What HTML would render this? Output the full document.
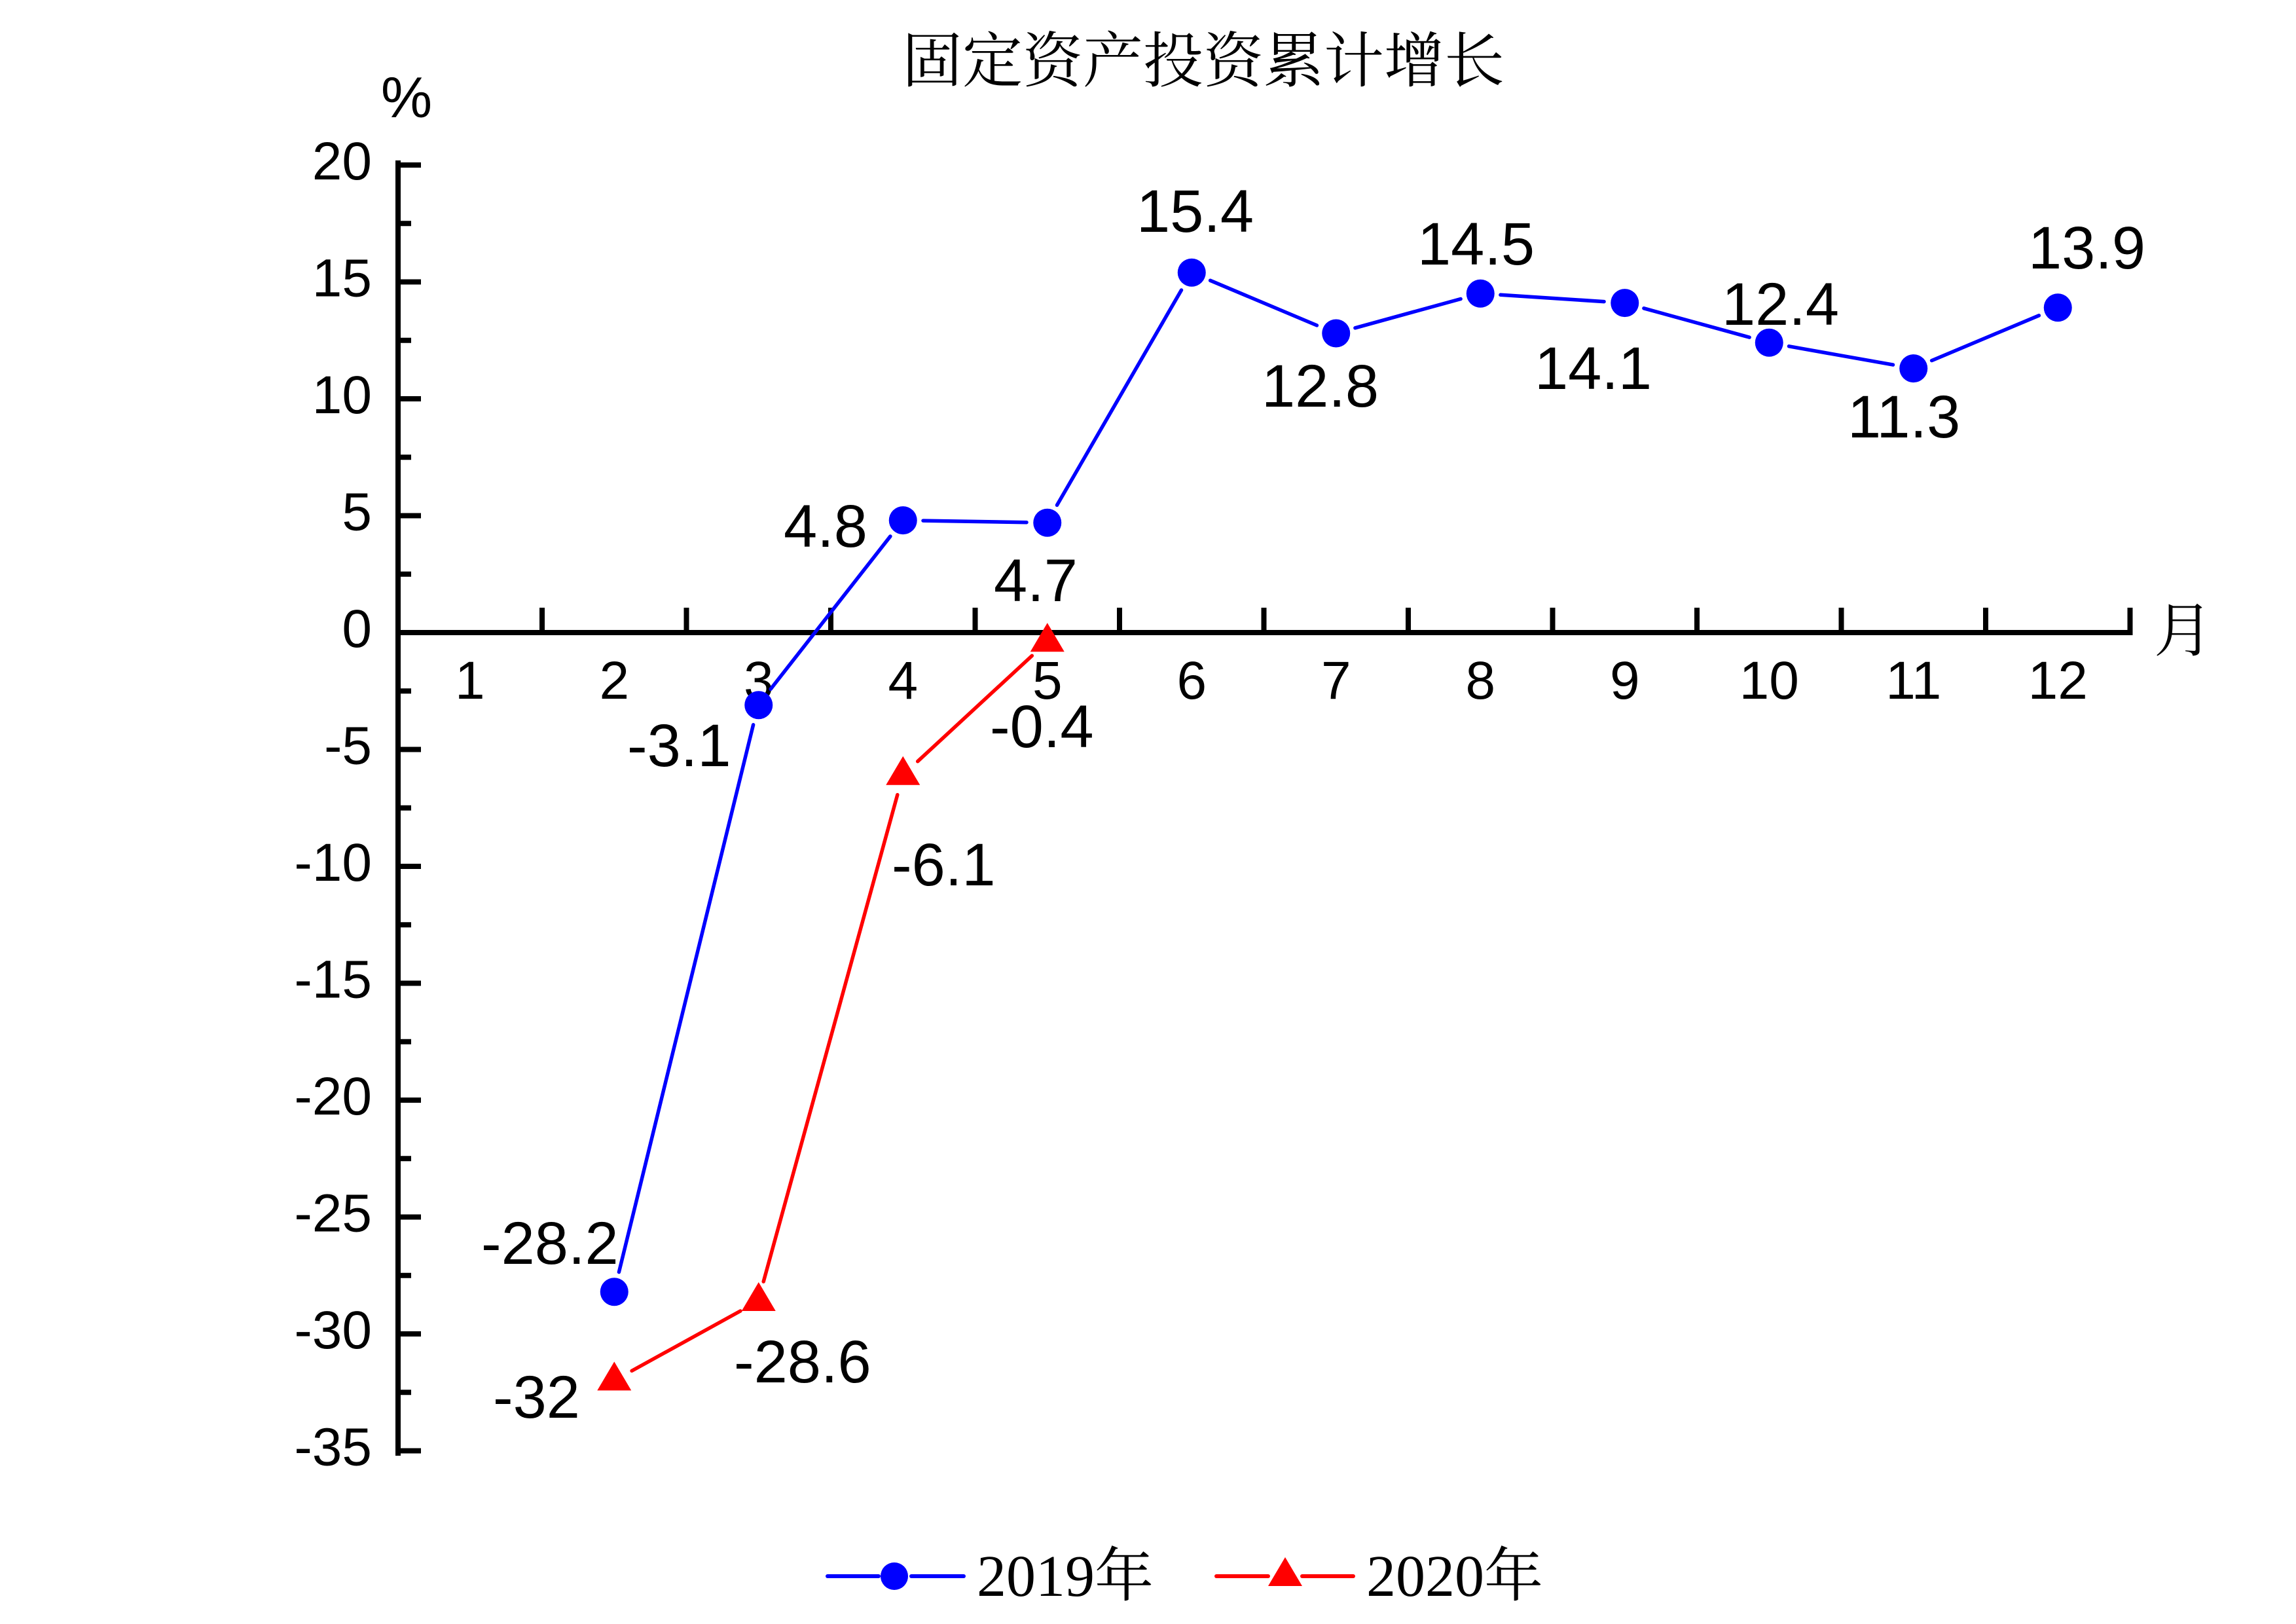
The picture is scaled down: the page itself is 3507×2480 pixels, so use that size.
<!DOCTYPE html>
<html><head><meta charset="utf-8">
<style>
html,body{margin:0;padding:0;background:#fff;width:3507px;height:2480px;overflow:hidden}
svg{display:block}
.t{font-family:"Liberation Sans",Arial,sans-serif;font-size:82px;fill:#000}
.d{font-family:"Liberation Sans",Arial,sans-serif;font-size:92px;fill:#000}
.c{font-family:"Liberation Serif","Noto Serif CJK SC",serif;fill:#000}
</style></head>
<body>
<svg width="3507" height="2480" viewBox="0 0 3507 2480" xmlns="http://www.w3.org/2000/svg">
<rect width="3507" height="2480" fill="#fff"/>

<!-- Title -->
<text class="c" x="1838" y="125" font-size="92" text-anchor="middle" style="font-family:'Noto Serif CJK SC','Liberation Serif',serif">固定资产投资累计增长</text>

<!-- % -->
<text class="t" x="621" y="179" font-size="88" text-anchor="middle" style="font-size:88px">%</text>

<!-- Y axis -->
<g stroke="#000" stroke-width="8" fill="none">
<line x1="608" y1="249" x2="608" y2="2219" stroke-linecap="square"/>
<path d="M608 252H643M608 430.5H643M608 609H643M608 787.5H643M608 966H643M608 1144.5H643M608 1323H643M608 1501.5H643M608 1680H643M608 1858.5H643M608 2037H643M608 2215.5H643"/>
<path d="M608 341.25H628M608 519.75H628M608 698.25H628M608 876.75H628M608 1055.25H628M608 1233.75H628M608 1412.25H628M608 1590.75H628M608 1769.25H628M608 1947.75H628M608 2126.25H628"/>
<!-- X axis -->
<line x1="604" y1="966" x2="3257" y2="966"/>
<path d="M828 966V928M1048.5 966V928M1269 966V928M1489.5 966V928M1710 966V928M1930.5 966V928M2151 966V928M2371.5 966V928M2592 966V928M2812.5 966V928M3033 966V928M3253.5 970V928"/>
</g>

<!-- Y tick labels -->
<g class="t" text-anchor="end">
<text x="568" y="274">20</text>
<text x="568" y="452.5">15</text>
<text x="568" y="631">10</text>
<text x="568" y="809.5">5</text>
<text x="568" y="988">0</text>
<text x="568" y="1166.5">-5</text>
<text x="568" y="1345">-10</text>
<text x="568" y="1523.5">-15</text>
<text x="568" y="1702">-20</text>
<text x="568" y="1880.5">-25</text>
<text x="568" y="2059">-30</text>
<text x="568" y="2237.5">-35</text>
</g>

<!-- X tick labels -->
<g class="t" text-anchor="middle">
<text x="717.75" y="1067">1</text>
<text x="938.25" y="1067">2</text>
<text x="1158.75" y="1067">3</text>
<text x="1379.25" y="1067">4</text>
<text x="1599.75" y="1067">5</text>
<text x="1820.25" y="1067">6</text>
<text x="2040.75" y="1067">7</text>
<text x="2261.25" y="1067">8</text>
<text x="2481.75" y="1067">9</text>
<text x="2702.25" y="1067">10</text>
<text x="2922.75" y="1067">11</text>
<text x="3143.25" y="1067">12</text>
</g>

<!-- 月 -->
<text x="3335" y="994" font-size="90" text-anchor="middle" style="font-family:'Noto Serif CJK SC','Liberation Serif',serif;fill:#000">月</text>

<!-- 2019 series -->
<g stroke="#0000ff" stroke-width="5.5" stroke-linecap="round" fill="none">
<line x1="945.4" y1="1942.6" x2="1150.6" y2="1106.8"/>
<line x1="1177.1" y1="1052.3" x2="1359.9" y2="819.0"/>
<line x1="1410" y1="795.1" x2="1568" y2="797.7"/>
<line x1="1614.5" y1="771.4" x2="1804.5" y2="443.0"/>
<line x1="1848.6" y1="428.3" x2="2011.4" y2="496.9"/>
<line x1="2069.9" y1="500.8" x2="2231.1" y2="456.5"/>
<line x1="2291.9" y1="450.3" x2="2450.1" y2="460.6"/>
<line x1="2510.9" y1="470.8" x2="2672.1" y2="515.1"/>
<line x1="2732.5" y1="528.8" x2="2891.5" y2="557.1"/>
<line x1="2950.6" y1="550.6" x2="3114.4" y2="481.8"/>
</g>
<g fill="#0000ff">
<circle cx="938.25" cy="1972.7" r="21.5"/>
<circle cx="1158.75" cy="1076.7" r="21.5"/>
<circle cx="1379.25" cy="794.6" r="21.5"/>
<circle cx="1599.75" cy="798.2" r="21.5"/>
<circle cx="1820.25" cy="416.2" r="21.5"/>
<circle cx="2040.75" cy="509.0" r="21.5"/>
<circle cx="2261.25" cy="448.3" r="21.5"/>
<circle cx="2481.75" cy="462.6" r="21.5"/>
<circle cx="2702.25" cy="523.3" r="21.5"/>
<circle cx="2922.75" cy="562.6" r="21.5"/>
<circle cx="3143.25" cy="469.8" r="21.5"/>
</g>

<!-- 2020 series -->
<g stroke="#ff0000" stroke-width="5.5" stroke-linecap="round" fill="none">
<line x1="965.1" y1="2093.4" x2="1130.9" y2="2002.0"/>
<line x1="1166.2" y1="1957.1" x2="1370.8" y2="1213.7"/>
<line x1="1401.7" y1="1162.7" x2="1576.3" y2="1001.4"/>
</g>
<g fill="#ff0000">
<polygon points="938.25,2079.4 912.25,2123.4 964.25,2123.4"/>
<polygon points="1158.75,1958 1132.75,2002 1184.75,2002"/>
<polygon points="1379.25,1154.8 1353.25,1198.8 1405.25,1198.8"/>
<polygon points="1599.75,951.3 1573.75,995.3 1625.75,995.3"/>
</g>

<!-- Data labels -->
<g class="d">
<text x="735" y="1930">-28.2</text>
<text x="958" y="1170">-3.1</text>
<text x="1197" y="835">4.8</text>
<text x="1518" y="918">4.7</text>
<text x="1736" y="354">15.4</text>
<text x="1927" y="621">12.8</text>
<text x="2165" y="404">14.5</text>
<text x="2344" y="594">14.1</text>
<text x="2630" y="496">12.4</text>
<text x="2822" y="668">11.3</text>
<text x="3098" y="410">13.9</text>
<text x="753" y="2165">-32</text>
<text x="1121" y="2111">-28.6</text>
<text x="1362" y="1352">-6.1</text>
<text x="1512" y="1141">-0.4</text>
</g>

<!-- Legend -->
<g stroke-width="6" stroke-linecap="round">
<line x1="1264" y1="2407" x2="1342" y2="2407" stroke="#0000ff"/>
<line x1="1392" y1="2407" x2="1472" y2="2407" stroke="#0000ff"/>
<line x1="1858" y1="2407" x2="1937" y2="2407" stroke="#ff0000"/>
<line x1="1989" y1="2407" x2="2067" y2="2407" stroke="#ff0000"/>
</g>
<circle cx="1366" cy="2407" r="21" fill="#0000ff"/>
<polygon points="1963,2378 1937,2422 1989,2422" fill="#ff0000"/>
<text class="c" x="1492" y="2437" font-size="90">2019年</text>
<text class="c" x="2087" y="2437" font-size="90">2020年</text>
</svg>
</body></html>
